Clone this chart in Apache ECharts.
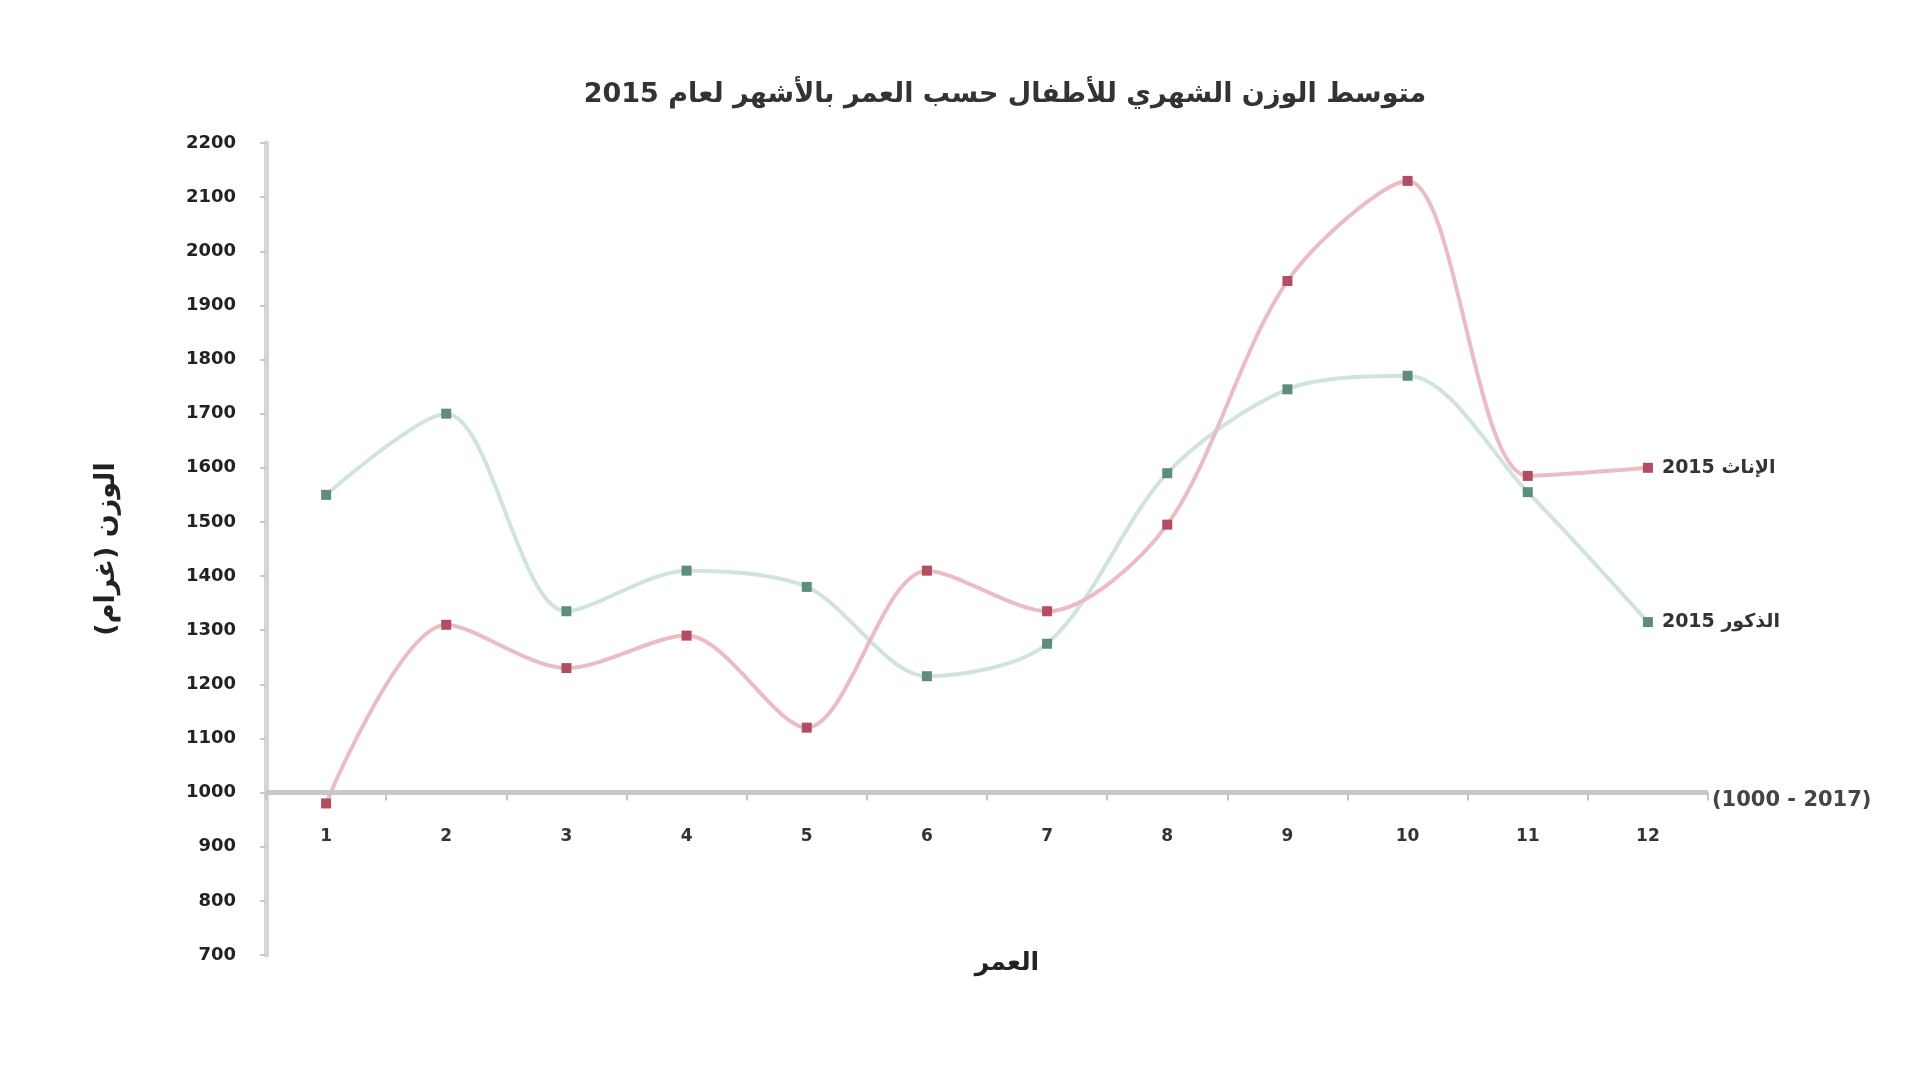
<!DOCTYPE html>
<html>
<head>
<meta charset="utf-8">
<script src="https://cdn.jsdelivr.net/npm/echarts@6/dist/echarts.min.js"></script>
<style>html,body{margin:0;padding:0;background:#fff}#c{width:1920px;height:1080px}</style>
</head>
<body>
<div id="c"></div>
<script>
const months = ['1','2','3','4','5','6','7','8','9','10','11','12'];
const femaleWeights = [980, 1310, 1230, 1290, 1120, 1410, 1335, 1495, 1945, 2130, 1585, 1600];
const maleWeights = [1550, 1700, 1335, 1410, 1380, 1215, 1275, 1590, 1745, 1770, 1555, 1315];
const seriesNames = ['الإناث 2015', 'الذكور 2015'];
const titleText = 'متوسط الوزن الشهري للأطفال حسب العمر بالأشهر لعام 2015';
const xAxisTitle = 'العمر';
const yAxisTitle = 'الوزن (غرام)';
const baseLabel = '(1000 - 2017)';
const yMin = 700, yMax = 2200, yStep = 100, baseValue = 1000;

const gridTop = 143, gridBottom = 125;
const gridHeight = 1080 - gridTop - gridBottom;
const baseOffset = -(baseValue - yMin) / (yMax - yMin) * gridHeight;

const font = 'DejaVu Sans';
const chart = echarts.init(document.getElementById('c'));
chart.setOption({
  backgroundColor: '#ffffff',
  animation: false,
  title: {
    text: titleText, left: 1000, textAlign: 'center', top: 76,
    textStyle: { fontFamily: font, fontSize: 27, fontWeight: 'bold', color: '#333' }
  },
  grid: { left: 266, right: 212, top: gridTop, bottom: gridBottom },
  xAxis: {
    type: 'category', data: months, boundaryGap: true,
    offset: baseOffset,
    name: xAxisTitle, nameLocation: 'middle', nameGap: 158,
    nameTextStyle: { fontFamily: font, fontSize: 25, fontWeight: 'bold', color: '#222', padding: [0, 0, 0, 40] },
    axisLine: { show: false },
    axisTick: { show: true, interval: 0, length: 8, lineStyle: { color: '#c4c4c4', width: 2 } },
    axisLabel: { margin: 35, fontFamily: font, fontSize: 17, fontWeight: 'bold', color: '#333' },
    splitLine: { show: false }
  },
  yAxis: {
    type: 'value', min: yMin, max: yMax, interval: yStep,
    name: yAxisTitle, nameLocation: 'middle', nameGap: 146, nameRotate: 90,
    nameTextStyle: { fontFamily: font, fontSize: 27, fontWeight: 'bold', color: '#222' },
    axisLine: { show: true, lineStyle: { color: '#d6d6d6', width: 5 } },
    axisTick: { show: true, length: 6, lineStyle: { color: '#c8c8c8', width: 2 } },
    axisLabel: { margin: 30, fontFamily: font, fontSize: 18, fontWeight: 'bold', color: '#222', formatter: function (v) { return String(v); } },
    splitLine: { show: false }
  },
  series: [
    {
      name: seriesNames[0], type: 'line', data: femaleWeights, smooth: 0.3,
      symbol: 'rect', symbolSize: 10,
      lineStyle: { color: '#ecbcc5', width: 4 },
      itemStyle: { color: '#b24d62' },
      endLabel: { show: true, formatter: '{a}', distance: 14, fontFamily: font, fontSize: 19, fontWeight: 'bold', color: '#333' },
      markLine: {
        silent: true, symbol: 'none',
        lineStyle: { color: '#c8c8c8', width: 5, type: 'solid' },
        label: { show: true, position: 'end', formatter: baseLabel, distance: 4, offset: [0, 8], fontFamily: font, fontSize: 21, fontWeight: 'bold', color: '#444' },
        data: [{ yAxis: baseValue }]
      },
      z: 3
    },
    {
      name: seriesNames[1], type: 'line', data: maleWeights, smooth: 0.3,
      symbol: 'rect', symbolSize: 10,
      lineStyle: { color: '#cfe5dc', width: 4 },
      itemStyle: { color: '#5f8d7d' },
      endLabel: { show: true, formatter: '{a}', distance: 14, fontFamily: font, fontSize: 19, fontWeight: 'bold', color: '#333' },
      z: 2
    }
  ]
});
</script>
</body>
</html>
